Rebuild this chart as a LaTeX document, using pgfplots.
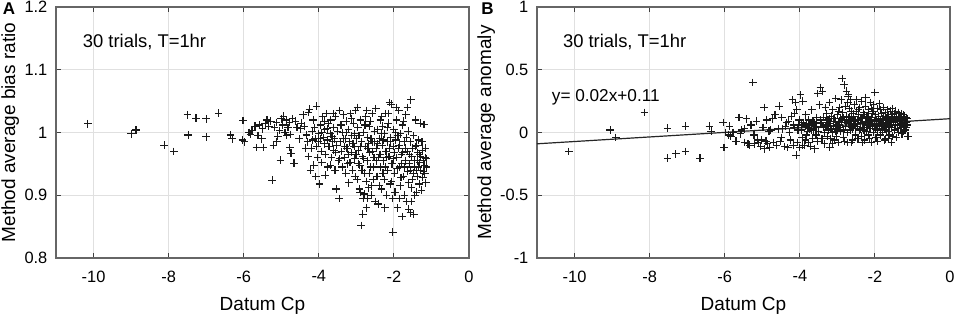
\documentclass[border=0pt]{standalone}
\usepackage{pgfplots}
\pgfplotsset{compat=1.18}
\usepackage{fontspec}
\setmainfont{Liberation Sans}
\pgfplotsset{myax/.style={
  scale only axis, width=206.5pt, height=125.5pt,
  xmin=-11, xmax=0, xtick={-10,-8,-6,-4,-2,0},
  grid=major, major grid style={black!12, line width=0.45pt},
  axis line style={black!60, line width=0.6pt},
  tick align=inside, major tick length=2.5pt, tick style={black!75, line width=0.5pt},
  ticklabel style={font=\fontsize{8.2}{9}\selectfont},
  xticklabel style={yshift=-2.8pt},
  yticklabel style={xshift=-0.8pt},
  /pgf/number format/assume math mode=true,
  label style={font=\fontsize{9.5}{11}\selectfont},
  xlabel={Datum Cp},
  xlabel style={at={(axis description cs:0.5,-0.19)}, anchor=center},
  clip=false,
}}
\pgfplotsset{pts/.style={only marks, mark=+, mark size=1.9pt, black!90, mark options={line width=0.55pt}}}
\begin{document}
\begin{tikzpicture}
\begin{axis}[myax, at={(28pt,29.5pt)}, anchor=south west,
  ymin=0.8, ymax=1.2, ytick={0.8,0.9,1,1.1,1.2},
  ylabel={Method average bias ratio},
  ylabel style={at={(axis description cs:-0.111,0.5)}, anchor=center}]
\addplot[pts] coordinates {
(-10.15,1.014)(-9.0,0.998)(-8.87,1.004)(-8.12,0.980)(-7.86,0.970)(-7.50,1.028)(-7.48,0.996)(-7.27,1.023)(-7.00,1.022)(-7.00,0.993)(-6.67,1.031)
(-6.35,0.996)(-6.31,0.990)(-6.02,1.019)(-6.03,0.988)(-5.98,0.985)(-5.86,1.000)(-5.82,0.997)(-5.78,1.003)(-5.66,0.976)(-5.58,1.012)(-5.52,0.990)(-5.47,0.976)(-5.50,1.006)(-5.43,1.014)(-5.38,1.020)(-5.33,1.010)(-5.28,1.018)(-5.24,0.924)(-5.21,0.980)(-5.18,1.008)(-5.13,1.016)(-5.09,0.994)(-5.05,1.003)(-5.00,1.022)(-5.02,0.956)(-4.96,1.012)(-4.94,1.026)(-4.90,1.000)(-4.87,1.020)(-4.85,0.995)(-4.82,1.008)(-4.78,1.016)(-4.76,0.997)(-4.77,0.976)(-4.74,0.967)(-4.70,1.022)(-4.66,0.951)(-4.62,1.018)(-4.58,1.008)(-4.52,0.990)(-4.49,1.006)(-4.47,1.015)(-5.62,0.995)(-5.70,1.010)(-5.12,0.985)
(-4.42,1.028)(-4.38,1.010)(-4.33,0.996)(-4.30,0.985)(-4.27,1.032)(-4.25,1.037)(-4.22,0.940)(-4.20,0.975)(-4.18,1.002)(-4.15,1.020)(-4.13,0.948)(-4.10,0.990)(-4.08,0.930)(-4.06,1.042)(-4.04,0.960)(-4.02,0.985)(-4.00,0.998)(-3.98,0.918)(-3.96,1.012)(-3.94,0.970)(-3.92,0.952)(-3.90,1.025)(-3.88,0.992)(-3.86,0.982)(-3.84,1.005)(-3.82,0.965)(-3.80,1.030)(-3.78,0.988)(-3.76,0.945)(-3.74,1.015)(-3.72,0.978)(-3.70,0.998)(-3.68,1.020)(-3.66,0.960)(-3.64,0.985)(-3.62,1.008)(-3.60,0.972)(-3.58,0.990)(-3.56,1.026)(-3.54,0.910)(-3.52,0.980)(-3.50,1.002)(-3.48,0.955)(-3.46,0.895)(-4.35,0.975)(-4.12,1.008)(-3.95,0.990)(-3.85,1.018)(-3.75,0.978)(-3.65,0.994)(-3.55,0.968)(-4.28,0.962)(-4.05,0.978)(-3.83,0.932)(-3.69,0.948)(-3.57,0.940)(-3.92,1.000)(-4.16,0.988)(-3.78,1.006)(-3.62,1.030)
(-3.45,1.035)(-3.43,0.985)(-3.41,1.012)(-3.40,0.970)(-3.38,0.945)(-3.36,1.000)(-3.34,1.028)(-3.32,0.960)(-3.30,0.990)(-3.28,0.935)(-3.27,1.018)(-3.25,0.975)(-3.23,0.950)(-3.21,1.005)(-3.20,0.920)(-3.18,0.985)(-3.16,1.030)(-3.14,0.968)(-3.12,0.995)(-3.10,0.940)(-3.08,1.015)(-3.06,0.978)(-3.04,0.958)(-3.02,1.035)(-3.00,0.990)(-2.98,0.925)(-2.96,1.008)(-2.94,0.972)(-2.92,0.910)(-2.91,0.948)(-2.89,1.020)(-2.87,0.852)(-2.86,0.985)(-2.84,0.962)(-2.82,0.895)(-2.80,1.000)(-2.78,0.935)(-2.76,0.978)(-2.75,1.025)(-2.73,0.880)(-2.71,0.955)(-2.70,0.992)(-2.68,0.912)(-2.66,1.010)(-2.64,0.968)(-2.62,0.945)(-2.60,0.900)(-2.58,1.030)(-2.57,0.985)(-2.55,0.925)(-2.53,0.960)(-2.52,1.002)(-2.50,0.890)(-3.44,0.958)(-3.35,0.990)(-3.26,1.000)(-3.17,0.952)(-3.09,0.982)(-3.01,0.965)(-2.93,0.995)(-2.85,0.940)(-2.77,1.012)(-2.69,0.975)(-2.61,0.990)(-2.54,0.945)(-2.83,0.870)(-2.79,0.902)(-2.74,0.922)(-2.65,0.935)(-2.59,0.915)(-3.13,1.022)(-2.97,1.040)(-2.72,1.035)(-2.63,1.018)(-3.31,0.978)(-3.05,0.998)(-2.88,0.978)(-2.67,0.982)(-2.56,0.970)(-3.22,0.965)(-2.95,0.950)(-2.81,0.958)(-2.51,0.985)(-2.90,0.905)(-3.03,0.930)(-2.70,0.895)
(-2.48,1.038)(-2.46,0.975)(-2.45,0.930)(-2.43,1.005)(-2.42,0.886)(-2.40,0.960)(-2.38,0.990)(-2.36,1.020)(-2.35,0.945)(-2.33,0.910)(-2.31,0.980)(-2.30,1.010)(-2.28,0.955)(-2.26,0.925)(-2.25,0.998)(-2.23,1.030)(-2.21,0.970)(-2.20,0.900)(-2.18,0.985)(-2.16,0.940)(-2.15,1.015)(-2.13,0.962)(-2.12,1.048)(-2.10,0.918)(-2.08,0.992)(-2.07,1.045)(-2.05,0.950)(-2.03,0.841)(-2.02,0.978)(-2.00,1.005)(-1.98,0.935)(-1.97,0.905)(-1.95,0.988)(-1.93,1.020)(-1.92,0.960)(-1.90,0.880)(-1.88,0.975)(-1.87,1.035)(-1.85,0.945)(-1.83,0.915)(-1.82,0.998)(-1.80,0.965)(-1.78,0.866)(-1.77,1.012)(-1.75,0.930)(-1.73,0.985)(-1.72,0.900)(-1.70,0.955)(-1.68,1.028)(-1.67,0.890)(-1.65,0.970)(-1.63,0.938)(-1.62,1.002)(-1.60,0.878)(-1.58,0.950)(-1.57,0.985)(-1.55,1.052)(-1.53,0.912)(-1.52,0.962)(-1.50,0.925)(-1.48,0.995)(-1.47,0.870)(-1.45,0.945)(-1.43,0.978)(-1.42,1.020)(-1.40,0.905)(-1.38,0.955)(-1.37,0.930)(-1.35,0.988)(-1.33,0.918)(-1.32,0.965)(-1.30,1.015)(-1.28,0.940)(-1.27,0.908)(-1.25,0.972)(-1.23,0.928)(-1.22,0.955)(-1.20,1.013)(-1.18,0.935)(-1.17,0.960)(-1.15,0.920)(-1.13,0.945)(-2.47,0.955)(-2.39,0.915)(-2.34,0.998)(-2.27,0.988)(-2.22,0.945)(-2.17,1.008)(-2.11,0.975)(-2.06,0.922)(-2.01,0.958)(-1.96,1.000)(-1.91,0.942)(-1.86,0.980)(-1.81,0.928)(-1.76,0.968)(-1.71,0.945)(-1.66,0.992)(-1.61,0.920)(-1.56,0.940)(-1.51,0.975)(-1.46,0.955)(-1.41,0.940)(-1.36,0.968)(-1.31,0.952)(-1.26,0.985)(-1.21,0.938)(-1.16,0.975)(-2.44,0.982)(-2.37,0.965)(-2.29,0.935)(-2.19,0.960)(-2.09,0.985)(-1.99,0.968)(-1.89,0.995)(-1.79,0.950)(-1.69,0.975)(-1.59,0.965)(-1.49,0.935)(-1.39,0.980)(-1.29,0.962)(-1.19,0.948)(-2.32,1.025)(-2.14,1.030)(-1.94,1.040)(-1.74,1.018)(-1.64,1.040)(-1.84,0.895)(-1.54,0.890)(-1.44,0.900)(-1.34,0.945)(-1.24,0.985)(-1.14,0.958)(-2.24,0.880)(-2.04,0.895)(-1.56,0.872)
};
\node[anchor=west, font=\fontsize{9.2}{11}\selectfont] at (rel axis cs:0.048,0.862) {30 trials, T=1hr};
\end{axis}
\begin{axis}[myax, at={(268.5pt,29.5pt)}, anchor=south west,
  ymin=-1, ymax=1, ytick={-1,-0.5,0,0.5,1},
  ylabel={Method average anomaly},
  ylabel style={at={(axis description cs:-0.123,0.5)}, anchor=center}]
\addplot[pts] coordinates {
(-10.15,-0.15)(-9.05,0.02)(-8.90,-0.04)(-8.14,0.16)(-7.52,0.035)(-7.52,-0.205)(-7.30,-0.17)(-7.04,0.05)(-7.04,-0.15)(-6.66,-0.205)
(-6.41,0.05)(-6.36,0.01)(-6.04,0.08)(-6.02,-0.12)(-5.98,0.00)(-5.87,0.05)(-5.89,-0.02)(-5.84,-0.03)(-5.78,0.00)(-5.62,0.12)(-5.55,0.02)(-5.47,0.03)(-5.47,-0.08)(-5.42,0.11)(-5.38,-0.09)(-5.30,0.06)(-5.25,0.40)(-5.22,-0.02)(-5.20,-0.09)(-5.15,0.09)(-5.12,-0.06)(-5.10,-0.08)(-5.05,-0.11)(-5.02,-0.06)(-4.98,0.04)(-4.95,0.20)(-4.93,-0.13)(-4.90,-0.07)(-4.86,-0.09)(-4.82,0.01)(-4.80,-0.12)(-4.77,0.02)(-4.72,0.11)(-4.70,-0.08)(-4.66,0.14)(-4.62,-0.10)(-4.58,0.03)(-4.55,0.21)(-4.52,-0.07)(-5.70,-0.07)(-5.33,-0.10)(-4.88,0.10)(-5.58,-0.01)(-4.48,0.12)(-4.50,-0.04)
(-4.45,0.03)(-4.40,-0.11)(-4.35,0.08)(-4.32,-0.12)(-4.28,0.00)(-4.25,-0.06)(-4.22,0.13)(-4.20,0.26)(-4.18,-0.10)(-4.15,0.04)(-4.12,0.24)(-4.10,-0.18)(-4.08,0.18)(-4.06,-0.08)(-4.04,0.06)(-4.02,0.10)(-4.00,-0.12)(-3.98,0.30)(-3.96,0.02)(-3.94,-0.04)(-3.92,0.25)(-3.90,0.08)(-3.88,-0.10)(-3.86,0.05)(-3.84,0.14)(-3.82,-0.02)(-3.80,0.04)(-3.78,-0.08)(-3.76,0.10)(-3.74,0.03)(-3.72,-0.11)(-3.70,0.06)(-3.68,0.18)(-3.66,-0.05)(-3.64,0.02)(-3.62,0.08)(-3.60,-0.13)(-3.58,0.05)(-3.56,0.12)(-3.54,-0.07)(-3.52,0.31)(-3.50,0.01)(-3.48,0.22)(-3.46,0.07)(-4.38,0.05)(-4.14,0.15)(-3.95,0.06)(-3.85,-0.06)(-3.75,0.07)(-3.65,0.09)(-3.55,0.04)(-4.30,0.09)(-4.05,0.02)(-3.83,0.07)(-3.69,0.02)(-3.57,-0.02)(-3.93,-0.10)(-4.16,0.06)(-3.79,0.01)(-3.61,0.05)
(-3.45,0.36)(-3.43,0.08)(-3.41,-0.05)(-3.40,0.33)(-3.38,0.12)(-3.36,0.04)(-3.34,-0.09)(-3.32,0.20)(-3.30,0.06)(-3.28,0.15)(-3.27,-0.03)(-3.25,0.10)(-3.23,0.02)(-3.21,0.24)(-3.20,-0.12)(-3.18,0.07)(-3.16,0.13)(-3.14,0.00)(-3.12,0.18)(-3.10,0.05)(-3.08,-0.06)(-3.06,0.09)(-3.04,0.27)(-3.02,0.03)(-3.00,0.14)(-2.98,-0.08)(-2.96,0.06)(-2.94,0.20)(-2.92,0.11)(-2.91,0.01)(-2.89,0.08)(-2.87,0.43)(-2.86,0.16)(-2.84,-0.04)(-2.82,0.38)(-2.80,0.10)(-2.78,0.05)(-2.76,0.33)(-2.75,0.13)(-2.73,-0.08)(-2.71,0.29)(-2.70,0.07)(-2.68,0.19)(-2.66,0.02)(-2.64,0.26)(-2.62,0.11)(-2.60,-0.06)(-2.58,0.15)(-2.57,0.06)(-2.55,0.22)(-2.53,0.09)(-2.52,-0.02)(-2.50,0.17)(-3.44,0.10)(-3.35,0.00)(-3.26,0.08)(-3.17,0.03)(-3.09,0.11)(-3.01,0.06)(-2.93,0.04)(-2.85,0.12)(-2.77,0.08)(-2.69,0.12)(-2.61,0.04)(-2.54,0.10)(-2.83,0.02)(-2.79,0.21)(-2.74,0.00)(-2.65,0.09)(-2.59,0.03)(-3.13,-0.09)(-2.97,0.17)(-2.72,0.24)(-2.63,0.17)(-3.31,0.05)(-3.05,0.01)(-2.88,0.10)(-2.67,0.05)(-2.56,0.13)(-3.22,0.11)(-2.95,0.09)(-2.81,-0.07)(-2.51,0.07)(-2.90,0.26)(-3.03,-0.03)(-2.70,0.30)(-3.19,-0.05)(-2.99,0.02)(-2.62,-0.08)
(-2.48,0.26)(-2.46,0.05)(-2.45,-0.05)(-2.43,0.14)(-2.42,0.02)(-2.40,0.20)(-2.38,0.08)(-2.36,-0.03)(-2.35,0.25)(-2.33,0.11)(-2.31,0.04)(-2.30,0.16)(-2.28,-0.06)(-2.26,0.09)(-2.25,0.21)(-2.23,0.01)(-2.21,0.13)(-2.20,0.06)(-2.18,-0.02)(-2.16,0.18)(-2.15,0.10)(-2.13,0.03)(-2.12,0.24)(-2.10,-0.08)(-2.08,0.12)(-2.07,0.05)(-2.05,0.17)(-2.03,0.00)(-2.02,0.09)(-2.00,0.32)(-1.98,0.14)(-1.97,-0.04)(-1.95,0.07)(-1.93,0.19)(-1.92,0.02)(-1.90,0.11)(-1.88,0.23)(-1.87,0.05)(-1.85,-0.02)(-1.83,0.15)(-1.82,0.08)(-1.80,0.00)(-1.78,0.20)(-1.77,0.10)(-1.75,0.04)(-1.73,0.16)(-1.72,-0.05)(-1.70,0.12)(-1.68,0.06)(-1.67,0.18)(-1.65,0.01)(-1.63,0.14)(-1.62,0.08)(-1.60,-0.02)(-1.58,0.17)(-1.57,0.10)(-1.55,0.04)(-1.53,0.13)(-1.52,-0.03)(-1.50,0.08)(-1.48,0.15)(-1.47,0.02)(-1.45,0.10)(-1.43,-0.04)(-1.42,0.12)(-1.40,0.06)(-1.38,0.16)(-1.37,0.00)(-1.35,0.09)(-1.33,0.13)(-1.32,0.04)(-1.30,0.11)(-1.28,-0.01)(-1.27,0.07)(-1.25,0.14)(-1.23,0.05)(-1.22,0.10)(-1.20,0.02)(-1.18,0.08)(-1.17,0.12)(-1.15,0.06)(-1.13,0.09)(-1.12,-0.03)(-2.47,0.10)(-2.39,0.03)(-2.34,0.07)(-2.27,0.14)(-2.22,0.04)(-2.17,0.11)(-2.11,0.07)(-2.06,0.15)(-2.01,0.06)(-1.96,0.10)(-1.91,0.13)(-1.86,0.09)(-1.81,0.03)(-1.76,0.13)(-1.71,0.07)(-1.66,0.11)(-1.61,0.05)(-1.56,0.14)(-1.51,0.10)(-1.46,0.06)(-1.41,0.09)(-1.36,0.12)(-1.31,0.07)(-1.26,0.10)(-1.21,0.13)(-1.16,0.04)(-2.44,0.18)(-2.37,0.12)(-2.29,0.02)(-2.19,0.08)(-2.09,0.19)(-1.99,0.03)(-1.89,0.06)(-1.79,0.11)(-1.69,0.02)(-1.59,0.09)(-1.49,0.12)(-1.39,0.03)(-1.29,0.15)(-1.19,0.06)(-2.32,-0.08)(-2.14,-0.05)(-1.94,-0.07)(-1.74,-0.06)(-1.64,-0.05)(-1.84,0.18)(-1.54,0.19)(-1.44,0.17)(-1.34,0.06)(-1.24,0.01)(-1.14,0.11)(-2.24,0.28)(-2.04,0.22)(-1.56,-0.08)
};
\addplot[black!85, line width=0.6pt, mark=none] coordinates {(-11,-0.09)(0,0.11)};
\node[anchor=west, font=\fontsize{9.2}{11}\selectfont] at (rel axis cs:0.046,0.862) {30 trials, T=1hr};
\node[anchor=west, font=\fontsize{8.6}{10}\selectfont] at (rel axis cs:0.019,0.639) {y= 0.02x+0.11};
\end{axis}
\node[font=\fontsize{8.5}{10}\selectfont\bfseries] at (4.5pt,154.3pt) {A};
\node[font=\fontsize{8.5}{10}\selectfont\bfseries] at (243.7pt,154.3pt) {B};
\pgfresetboundingbox
\path (0,0) rectangle (478.5pt,158.5pt);
\end{tikzpicture}
\end{document}
